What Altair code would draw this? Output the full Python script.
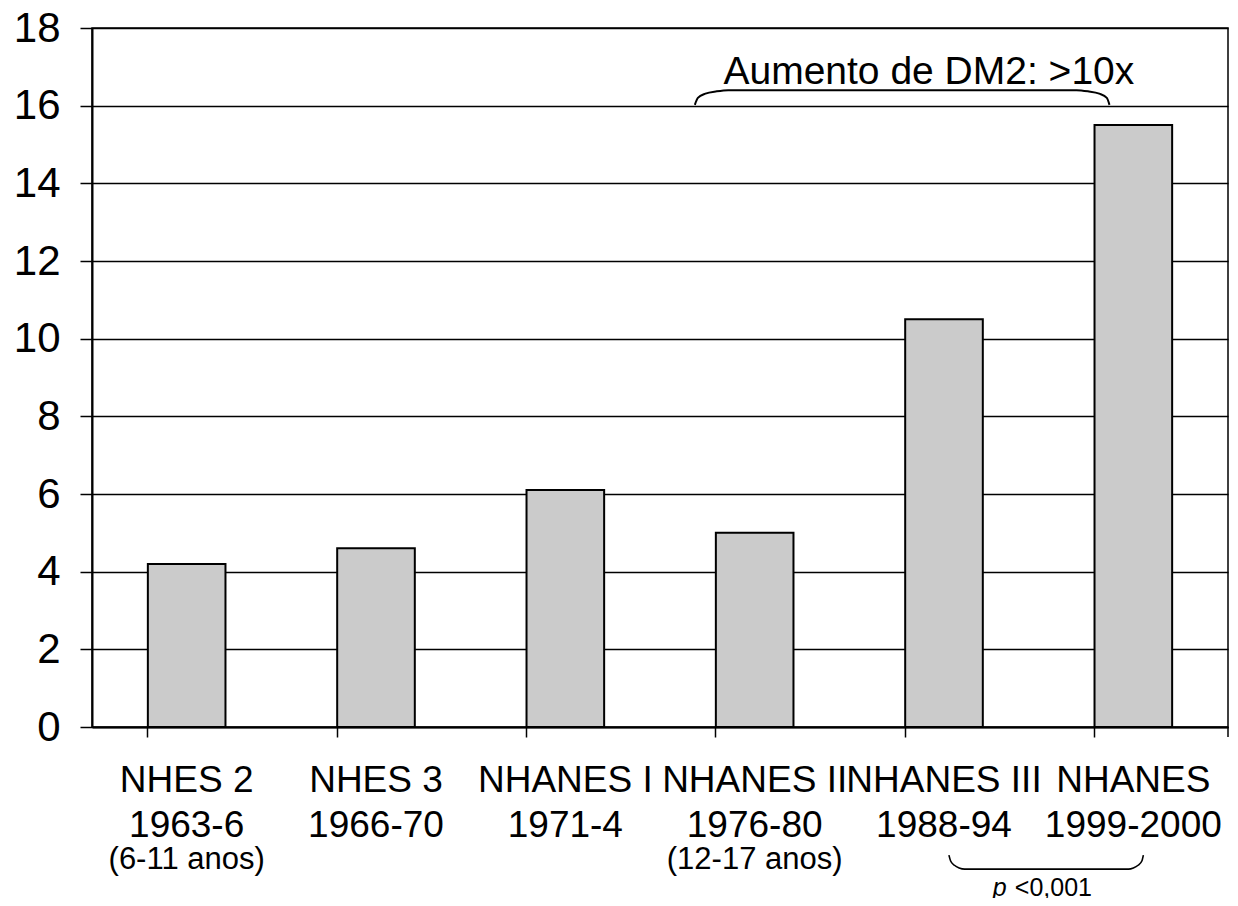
import altair as alt
import pandas as pd

# ---- data ----
surveys = ["NHES 2", "NHES 3", "NHANES I", "NHANES II", "NHANES III", "NHANES"]
periods = ["1963-6", "1966-70", "1971-4", "1976-80", "1988-94", "1999-2000"]
ages = ["(6-11 anos)", "", "", "(12-17 anos)", "", ""]
prevalence = [4.2, 4.6, 6.1, 5.0, 10.5, 15.5]
y_ticks = [0, 2, 4, 6, 8, 10, 12, 14, 16, 18]

# annotation outlines (x in category-slot units 0..6, y in value units)
top_brace_x = [3.184, 3.20, 3.24, 3.30, 3.36, 5.20, 5.26, 5.32, 5.36, 5.374]
top_brace_y = [16.02, 16.20, 16.31, 16.37, 16.40, 16.40, 16.37, 16.31, 16.20, 16.02]
bot_brace_x = [4.526, 4.535, 4.555, 4.58, 4.61, 5.475, 5.50, 5.525, 5.545, 5.553]
bot_brace_y = [-3.30, -3.45, -3.56, -3.63, -3.66, -3.66, -3.63, -3.56, -3.45, -3.30]
top_text = "Aumento de DM2: >10x"
top_text_pos = (4.42, 16.55)
p_italic = "p"
p_rest = "<0,001"
p_pos = (4.758, -4.36)
p_rest_pos = (4.874, -4.36)

W, H = 1136, 699
FONT = "Liberation Sans"

df = pd.DataFrame({"survey": surveys, "period": periods, "age": ages, "value": prevalence})

xband = alt.Scale(domain=periods, paddingInner=0.59, paddingOuter=0.295)
yscale = alt.Scale(domain=[0, 18], nice=False, zero=False)
xq = alt.Scale(domain=[0, 6], nice=False, zero=False)

y_axis = alt.Axis(values=y_ticks, title=None, grid=True, gridColor="black",
                  gridWidth=1.5, gridOpacity=1, tickSize=12, tickWidth=1.5,
                  tickColor="black", domainColor="black", domainWidth=2,
                  labelFontSize=42, labelFont=FONT, labelColor="black",
                  labelPadding=20)

bars = alt.Chart(df).mark_bar(fill="#cbcbcb", stroke="black", strokeWidth=2).encode(
    x=alt.X("period:N", scale=xband, sort=periods,
            axis=alt.Axis(title=None, labels=False, bandPosition=0, tickSize=10,
                          tickWidth=1.5, tickColor="black", domainColor="black",
                          domainWidth=2, grid=False)),
    y=alt.Y("value:Q", scale=yscale, axis=y_axis),
)

right_tick = alt.Chart(pd.DataFrame({"a": [0]})).mark_rule(color="black", strokeWidth=1.5).encode(
    x=alt.value(W), y=alt.value(H), y2=alt.value(H + 10)
)

def label_layer(field, ypix, size):
    return alt.Chart(df).mark_text(font=FONT, fontSize=size, color="black",
                                   align="center", baseline="alphabetic").encode(
        x=alt.X("period:N", scale=xband, sort=periods, axis=None),
        y=alt.value(ypix),
        text=f"{field}:N",
    )

lab1 = label_layer("survey", 764, 37)
lab2 = label_layer("period", 809, 37)
lab3 = label_layer("age", 841, 31)

def brace(xs, ys, width):
    d = pd.DataFrame({"bx": xs, "by": ys, "i": list(range(len(xs)))})
    return alt.Chart(d).mark_line(interpolate="monotone", color="black", strokeWidth=width).encode(
        x=alt.X("bx:Q", scale=xq, axis=None),
        y=alt.Y("by:Q", scale=yscale, axis=y_axis),
        order="i:Q",
    )

top_brace = brace(top_brace_x, top_brace_y, 2)
bot_brace = brace(bot_brace_x, bot_brace_y, 1.6)

def note(text, pos, size, style="normal", align="center"):
    d = pd.DataFrame({"tx": [pos[0]], "ty": [pos[1]], "t": [text]})
    return alt.Chart(d).mark_text(font=FONT, fontSize=size, fontStyle=style, color="black",
                                  align=align, baseline="alphabetic").encode(
        x=alt.X("tx:Q", scale=xq, axis=None),
        y=alt.Y("ty:Q", scale=yscale, axis=y_axis),
        text="t:N",
    )

top_note = note(top_text, top_text_pos, 39)
p_note1 = note(p_italic, p_pos, 25, style="italic", align="left")
p_note2 = note(p_rest, p_rest_pos, 25, align="left")

chart = alt.layer(
    bars, right_tick, lab1, lab2, lab3, top_brace, bot_brace, top_note, p_note1, p_note2
).resolve_scale(x="independent").properties(
    width=W, height=H,
    autosize=alt.AutoSizeParams(type="none"),
    padding={"left": 84, "top": 20, "right": 2, "bottom": 171},
    background="white",
).configure_view(stroke="black", strokeWidth=1.5)

chart.save("out.html", embed_options={"renderer": "svg", "actions": False})
